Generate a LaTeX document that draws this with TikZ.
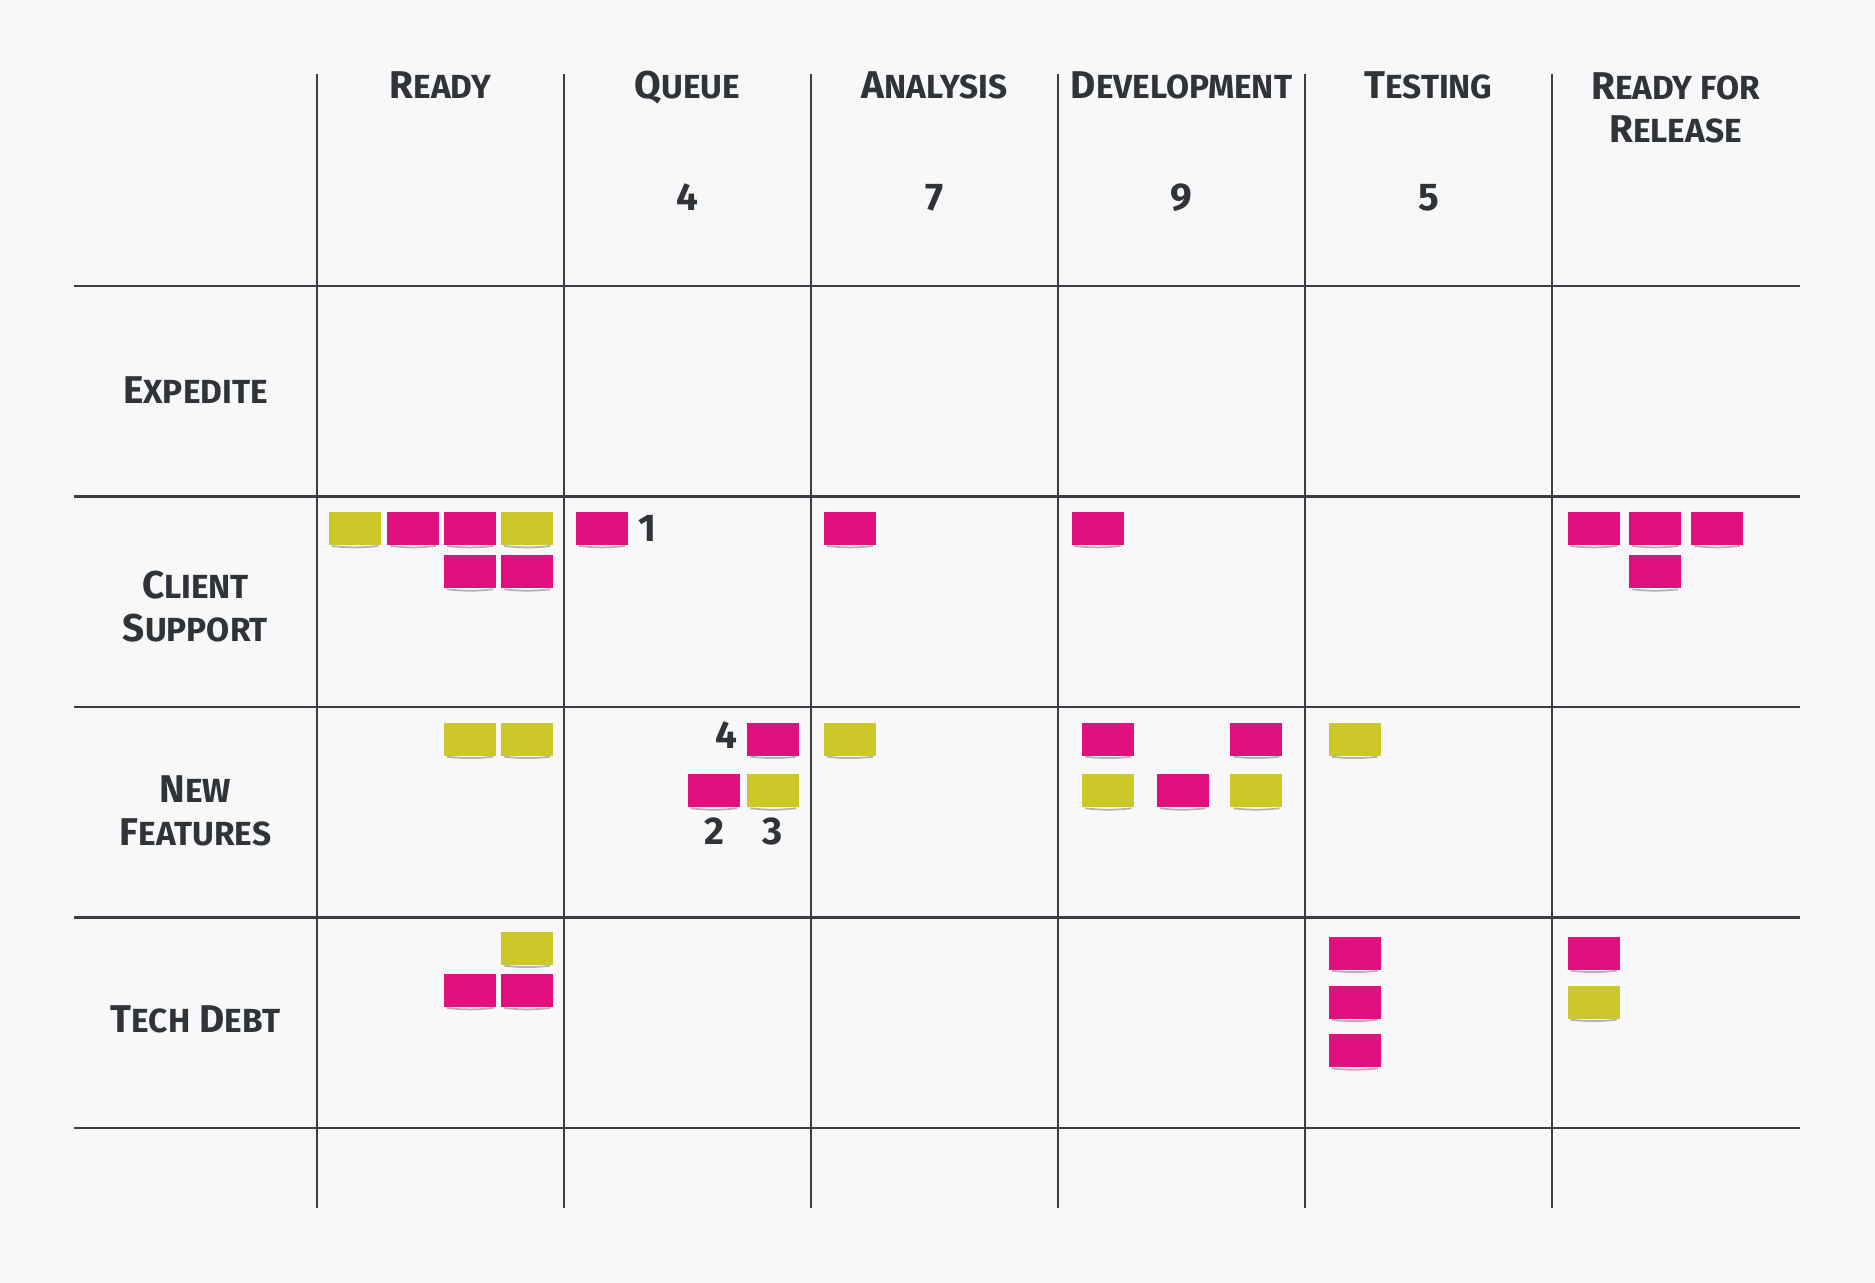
\documentclass[tikz,border=0pt]{standalone}
\usepackage{fontspec}
\setmainfont{Fira Sans}
\usepackage{tikz}
\usetikzlibrary{positioning}
\definecolor{boardbg}{HTML}{F8F8FA}
\definecolor{ink}{HTML}{2F3436}
\definecolor{gridline}{HTML}{3C3F41}
\definecolor{pinknote}{HTML}{E0107F}
\definecolor{yellownote}{HTML}{CCC82A}
\newcommand{\sm}[1]{{\fontsize{9.5}{11}\selectfont #1}}

\tikzset{
  note/.style={inner sep=0, outer sep=0, minimum width=0.52cm, minimum height=0.33cm, anchor=north west,
    append after command={([xshift=0.03cm,yshift=-0.01cm]\tikzlastnode.south west)
      edge[draw=gray!60, line width=0.5pt, bend right=6] ([xshift=-0.03cm,yshift=-0.01cm]\tikzlastnode.south east)}},
  pnote/.style={note, fill=pinknote},
  ynote/.style={note, fill=yellownote},
  head/.style={text=ink, font=\bfseries\fontsize{11}{12.5}\selectfont, align=center, anchor=base, inner sep=0},
  count/.style={text=ink, font=\bfseries\fontsize{11}{12}\selectfont, anchor=base, inner sep=0},
}

\begin{document}
\begin{tikzpicture}[x=0.01cm,y=-0.01cm]
\fill[boardbg] (0,0) rectangle (1875,1283);
\useasboundingbox (0,0) rectangle (1875,1283);

\foreach \x in {317,564,811,1058,1305,1552}
  \draw[gridline, line width=0.7pt] (\x,74) -- (\x,1208);
\foreach \y in {286,496.5,707,917.5,1128}
  \draw[gridline, line width=0.7pt] (74,\y) -- (1800,\y);

\node[head] (h-ready) at (440.5,99) {R\sm{EADY}};
\node[head] (h-queue) at (687.5,99) {Q\sm{UEUE}};
\node[head] (h-analysis) at (934.5,99) {A\sm{NALYSIS}};
\node[head] (h-dev) at (1181.5,99) {D\sm{EVELOPMENT}};
\node[head] (h-testing) at (1428.5,99) {T\sm{ESTING}};
\node[head] (h-release) at (1675.5,143) {R\sm{EADY FOR}\\R\sm{ELEASE}};

\node[count] (wip-queue) at (687.5,211) {4};
\node[count] (wip-analysis) at (934.5,211) {7};
\node[count] (wip-dev) at (1181.5,211) {9};
\node[count] (wip-testing) at (1428.5,211) {5};

\node[head] (r-expedite) at (195.5,404) {E\sm{XPEDITE}};
\node[head] (r-client) at (195.5,642) {C\sm{LIENT}\\S\sm{UPPORT}};
\node[head] (r-features) at (195.5,846) {N\sm{EW}\\F\sm{EATURES}};
\node[head] (r-debt) at (195.5,1033) {T\sm{ECH} D\sm{EBT}};

% client support
\node[ynote] (cs-ready-1) at (329,512) {};
\node[pnote] (cs-ready-2) at (387,512) {};
\node[pnote] (cs-ready-3) at (444,512) {};
\node[ynote] (cs-ready-4) at (501.3,512) {};
\node[pnote] (cs-ready-5) at (444,555.3) {};
\node[pnote] (cs-ready-6) at (501.3,555.3) {};
\node[pnote] (cs-queue-1) at (576,512) {};
\node[count] (lbl-1) at (647,542) {1};
\node[pnote] (cs-analysis-1) at (824,512) {};
\node[pnote] (cs-dev-1) at (1071.5,512) {};
\node[pnote] (cs-release-1) at (1567.7,512) {};
\node[pnote] (cs-release-2) at (1629.3,512) {};
\node[pnote] (cs-release-3) at (1691,512) {};
\node[pnote] (cs-release-4) at (1629.3,555.3) {};

% new features
\node[ynote] (nf-ready-1) at (444,722.7) {};
\node[ynote] (nf-ready-2) at (501.3,722.7) {};
\node[pnote] (nf-queue-1) at (747.4,722.7) {};
\node[pnote] (nf-queue-2) at (688,774.3) {};
\node[ynote] (nf-queue-3) at (747.4,774.3) {};
\node[count] (lbl-4) at (726,749) {4};
\node[count] (lbl-2) at (714,845) {2};
\node[count] (lbl-3) at (773,845) {3};
\node[ynote] (nf-analysis-1) at (824,722.7) {};
\node[pnote] (nf-dev-1) at (1082.4,722.7) {};
\node[pnote] (nf-dev-2) at (1230.4,722.7) {};
\node[ynote] (nf-dev-3) at (1082.4,774.3) {};
\node[pnote] (nf-dev-4) at (1156.6,774.3) {};
\node[ynote] (nf-dev-5) at (1230.4,774.3) {};
\node[ynote] (nf-testing-1) at (1328.6,722.7) {};

% tech debt
\node[ynote] (td-ready-1) at (501.3,931.7) {};
\node[pnote] (td-ready-2) at (444,974) {};
\node[pnote] (td-ready-3) at (501.3,974) {};
\node[pnote] (td-testing-1) at (1328.7,936.7) {};
\node[pnote] (td-testing-2) at (1328.7,985.7) {};
\node[pnote] (td-testing-3) at (1328.7,1034.3) {};
\node[pnote] (td-release-1) at (1567.7,936.7) {};
\node[ynote] (td-release-2) at (1567.7,985.7) {};
\end{tikzpicture}
\end{document}
